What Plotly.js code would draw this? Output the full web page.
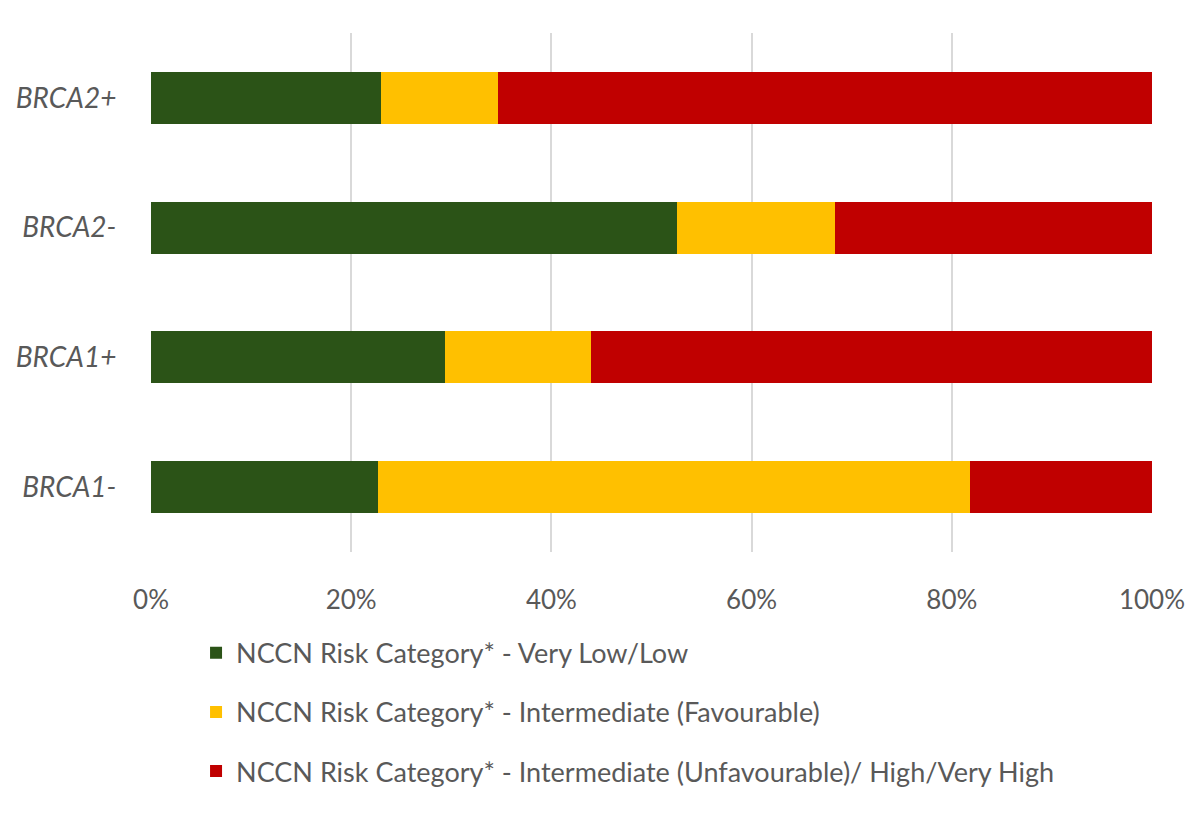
<!DOCTYPE html>
<html>
<head>
<meta charset="utf-8">
<script src="https://cdn.plot.ly/plotly-3.0.1.min.js"></script>
<style>html,body{margin:0;padding:0;background:#fff;}#chart{width:1200px;height:833px;}</style>
</head>
<body>
<div id="chart"></div>
<script>
const categories = ["BRCA1-", "BRCA1+", "BRCA2-", "BRCA2+"];
const seriesNames = [
  "NCCN Risk Category* - Very Low/Low",
  "NCCN Risk Category* - Intermediate (Favourable)",
  "NCCN Risk Category* - Intermediate (Unfavourable)/ High/Very High"
];
const veryLowLow = [22.7, 29.4, 52.5, 23.0];
const intermediateFav = [59.1, 14.6, 15.8, 11.7];
const unfavHigh = [18.2, 56.0, 31.7, 65.3];
const tickVals = [0, 20, 40, 60, 80, 100];
const tickLabels = ["0%", "20%", "40%", "60%", "80%", "100%"];

const colors = ["#2b5317", "#ffc000", "#c00000"];
const seriesVals = [veryLowLow, intermediateFav, unfavHigh];

const data = seriesVals.map((vals, i) => ({
  type: "bar",
  orientation: "h",
  y: categories,
  x: vals,
  name: seriesNames[i],
  legendgroup: "g" + i,
  marker: {color: colors[i], line: {width: 0}},
  hoverinfo: "x+y+name"
}));

const layout = {
  width: 1200,
  height: 833,
  barmode: "stack",
  bargap: 0.6,
  paper_bgcolor: "#ffffff",
  plot_bgcolor: "#ffffff",
  margin: {l: 151, r: 48, t: 33, b: 281},
  font: {family: "Lato, sans-serif", color: "#595959"},
  xaxis: {
    range: [0, 100],
    tickvals: tickVals,
    ticktext: tickLabels,
    showgrid: true,
    gridcolor: "#d9d9d9",
    gridwidth: 2,
    zeroline: false,
    showline: false,
    ticks: "outside",
    ticklen: 25,
    tickcolor: "rgba(0,0,0,0)",
    tickfont: {size: 26, color: "#595959"},
    fixedrange: true
  },
  yaxis: {
    type: "category",
    categoryorder: "array",
    categoryarray: categories,
    range: [-0.5, 3.5],
    showgrid: false,
    zeroline: false,
    showline: false,
    ticks: "outside",
    ticklen: 28,
    tickcolor: "rgba(0,0,0,0)",
    tickfont: {size: 28, color: "#595959", style: "italic"},
    fixedrange: true
  },
  showlegend: true,
  legend: {
    orientation: "v",
    x: 0.045,
    xanchor: "left",
    y: -0.148,
    yanchor: "top",
    traceorder: "grouped",
    tracegroupgap: 21,
    font: {size: 27, color: "#595959"},
    itemwidth: 30,
    bgcolor: "rgba(0,0,0,0)"
  }
};

Plotly.newPlot("chart", data, layout, {displayModeBar: false, staticPlot: true});
</script>
</body>
</html>
